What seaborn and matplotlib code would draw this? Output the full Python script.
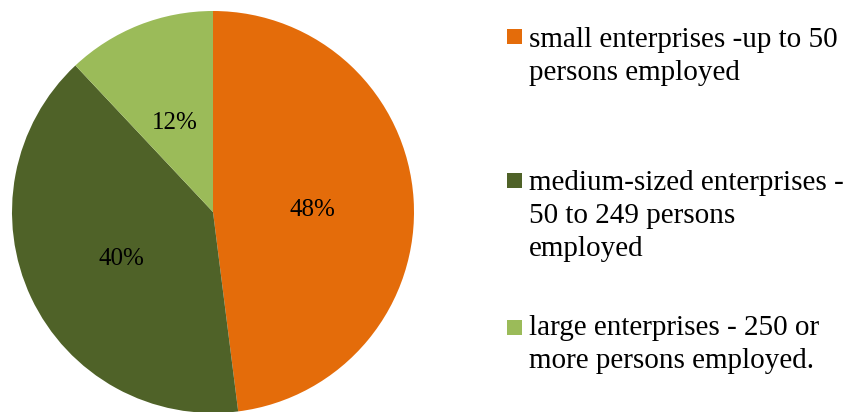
import matplotlib
matplotlib.use("Agg")
import matplotlib.pyplot as plt
import matplotlib.transforms as mtransforms
import seaborn as sns
from matplotlib.patches import Rectangle
from matplotlib import font_manager

categories = [
    "small enterprises -up to 50 persons employed",
    "medium-sized enterprises - 50 to 249 persons employed",
    "large enterprises - 250 or more persons employed.",
]
legend_lines = [
    ["small enterprises -up to 50", "persons employed"],
    ["medium-sized enterprises -", "50 to 249 persons", "employed"],
    ["large enterprises - 250 or", "more persons employed."],
]
values = [48, 40, 12]
colors = ["#E46C0A", "#4F6228", "#9BBB59"]

sns.set_style("white")
plt.rcParams["font.family"] = "serif"
plt.rcParams["font.serif"] = ["Liberation Serif", "DejaVu Serif"]
serif_path = font_manager.findfont(font_manager.FontProperties(family="Liberation Serif"))
fp_legend = font_manager.FontProperties(fname=serif_path, size=21)
fp_pct = font_manager.FontProperties(fname=serif_path, size=18)

W, H = 848, 412
fig = plt.figure(figsize=(W / 100, H / 100), dpi=100)

cx, cy, r = 213, 212, 201
ax = fig.add_axes([(cx - r) / W, (H - cy - r) / H, 2 * r / W, 2 * r / H])
wedges, texts, autotexts = ax.pie(
    values,
    colors=colors,
    startangle=90,
    counterclock=False,
    autopct=lambda p: f"{p:.0f}%",
    pctdistance=0.5,
    wedgeprops=dict(linewidth=0, antialiased=True),
    textprops=dict(color="black"),
)
for t in autotexts:
    t.set_fontproperties(fp_pct)
    t.set_transform(mtransforms.offset_copy(t.get_transform(), fig=fig,
                                            x=-1, y=-4.5, units="dots"))
ax.set_xlim(-1, 1)
ax.set_ylim(-1, 1)
ax.set_aspect("equal")
ax.axis("off")

# Legend (manual layout to match uneven spacing)
sq_x = 507
sq_size = 15
sq_tops = [29, 173, 320]
first_baselines = [47, 190, 335]
line_gap = 33
text_x = 529
for i, lines in enumerate(legend_lines):
    fig.patches.append(Rectangle((sq_x / W, (H - sq_tops[i] - sq_size) / H),
                                 sq_size / W, sq_size / H,
                                 transform=fig.transFigure, facecolor=colors[i],
                                 edgecolor="none"))
    for j, line in enumerate(lines):
        yb = first_baselines[i] + j * line_gap
        fig.text(text_x / W, (H - yb) / H, line, fontproperties=fp_legend,
                 ha="left", va="baseline", color="black")

fig.savefig("out.png", dpi=100)
